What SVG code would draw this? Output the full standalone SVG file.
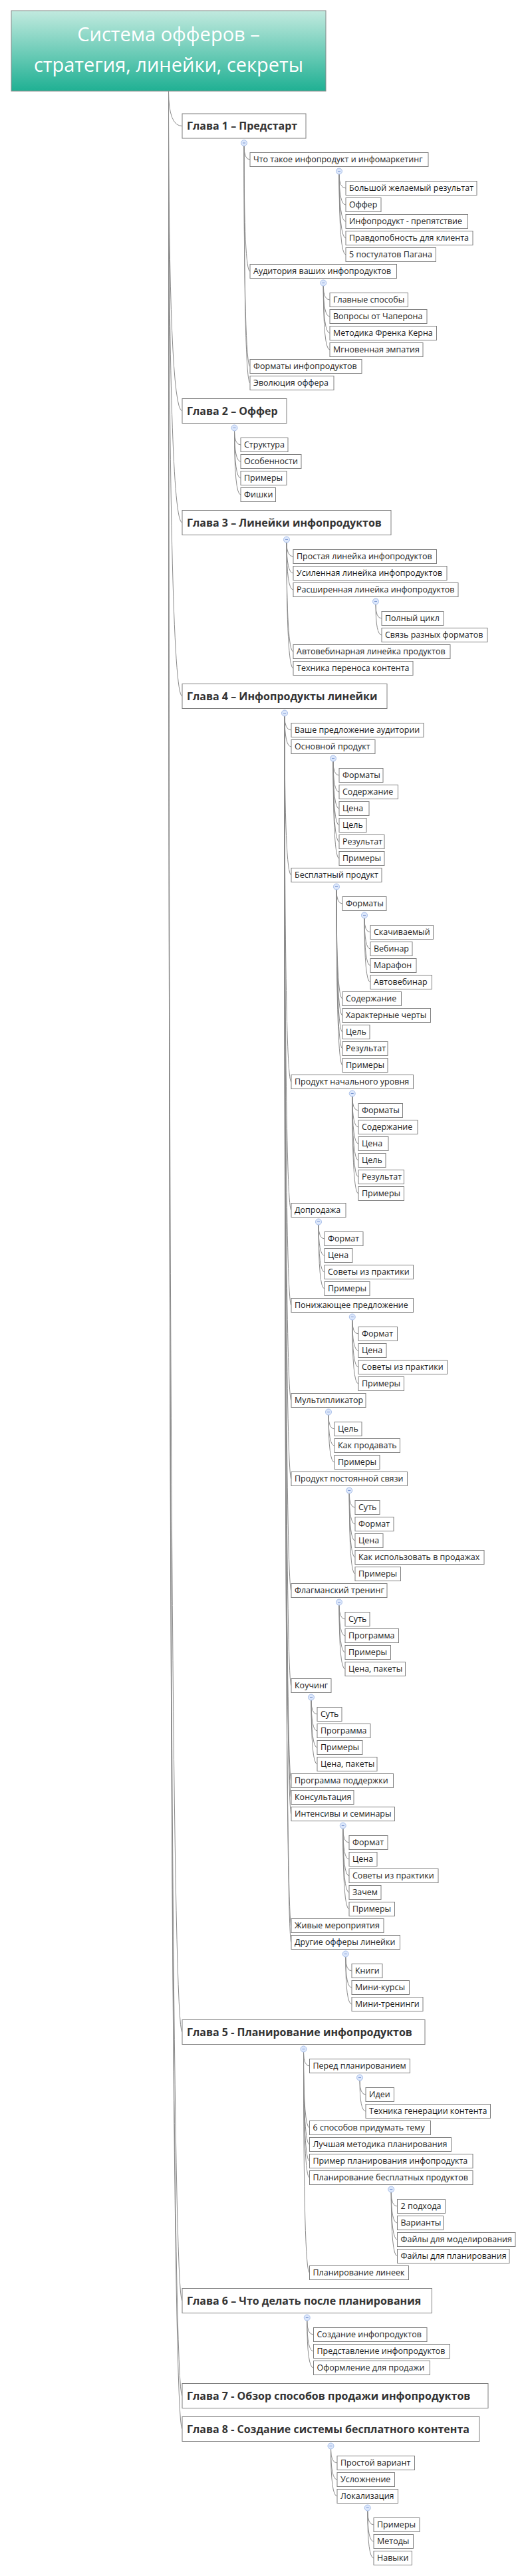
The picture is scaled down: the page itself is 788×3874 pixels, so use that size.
<svg xmlns="http://www.w3.org/2000/svg" width="788" height="3874" viewBox="0 0 788 3874">
<defs>
<linearGradient id="rootGrad" x1="0" y1="0" x2="0" y2="1">
<stop offset="0" stop-color="#c2eadf"/>
<stop offset="1" stop-color="#1fb093"/>
</linearGradient>
</defs>
<style>
.b{fill:#fff;stroke:#7f7f7f;stroke-width:1}
.t{font-family:"Open Sans","Noto Sans","DejaVu Sans",sans-serif;font-size:12.5px;fill:#1c1c1c}
.c{font-family:"Open Sans","Noto Sans","DejaVu Sans",sans-serif;font-size:16px;font-weight:700;fill:#333}
.r{font-family:"Open Sans","Noto Sans","DejaVu Sans",sans-serif;font-size:29px;fill:#fff;text-anchor:middle}
#conn path{fill:none;stroke:#8a8a8a;stroke-width:1}
.k circle{fill:#dce7fb;stroke:#a7bee9;stroke-width:1}
.k line{stroke:#7b97d1;stroke-width:1}
</style>
<rect width="788" height="3874" fill="#fff"/>
<g id="conn">
<path d="M253.5 137Q253.5 189.5 274 189.5"/>
<path d="M253.5 137Q253.5 618 274 618"/>
<path d="M253.5 137Q253.5 786 274 786"/>
<path d="M253.5 137Q253.5 1047 274 1047"/>
<path d="M253.5 137Q253.5 3056 274 3056"/>
<path d="M253.5 137Q253.5 3460 274 3460"/>
<path d="M253.5 137Q253.5 3603 274 3603"/>
<path d="M253.5 137Q253.5 3653 274 3653"/>
<path d="M367 219.5Q367 240 376 240"/>
<path d="M367 219.5Q367 408 376 408"/>
<path d="M367 219.5Q367 551 376 551"/>
<path d="M367 219.5Q367 576 376 576"/>
<path d="M510 262Q510 283 520 283"/>
<path d="M510 262Q510 308 520 308"/>
<path d="M510 262Q510 333 520 333"/>
<path d="M510 262Q510 358 520 358"/>
<path d="M510 262Q510 383 520 383"/>
<path d="M486.25 430Q486.25 451 496 451"/>
<path d="M486.25 430Q486.25 476 496 476"/>
<path d="M486.25 430Q486.25 501 496 501"/>
<path d="M486.25 430Q486.25 526 496 526"/>
<path d="M352.5 648Q352.5 669 362 669"/>
<path d="M352.5 648Q352.5 694 362 694"/>
<path d="M352.5 648Q352.5 719 362 719"/>
<path d="M352.5 648Q352.5 744 362 744"/>
<path d="M431 816Q431 837 441 837"/>
<path d="M431 816Q431 862 441 862"/>
<path d="M431 816Q431 887 441 887"/>
<path d="M431 816Q431 980 441 980"/>
<path d="M431 816Q431 1005 441 1005"/>
<path d="M565 909Q565 930 574 930"/>
<path d="M565 909Q565 955 574 955"/>
<path d="M428 1077Q428 1098 438 1098"/>
<path d="M428 1077Q428 1123 438 1123"/>
<path d="M428 1077Q428 1316 438 1316"/>
<path d="M428 1077Q428 1627 438 1627"/>
<path d="M428 1077Q428 1820 438 1820"/>
<path d="M428 1077Q428 1963 438 1963"/>
<path d="M428 1077Q428 2106 438 2106"/>
<path d="M428 1077Q428 2224 438 2224"/>
<path d="M428 1077Q428 2392 438 2392"/>
<path d="M428 1077Q428 2535 438 2535"/>
<path d="M428 1077Q428 2678 438 2678"/>
<path d="M428 1077Q428 2703 438 2703"/>
<path d="M428 1077Q428 2728 438 2728"/>
<path d="M428 1077Q428 2896 438 2896"/>
<path d="M428 1077Q428 2921 438 2921"/>
<path d="M501 1145Q501 1166 510 1166"/>
<path d="M501 1145Q501 1191 510 1191"/>
<path d="M501 1145Q501 1216 510 1216"/>
<path d="M501 1145Q501 1241 510 1241"/>
<path d="M501 1145Q501 1266 510 1266"/>
<path d="M501 1145Q501 1291 510 1291"/>
<path d="M506 1338Q506 1359 515 1359"/>
<path d="M506 1338Q506 1502 515 1502"/>
<path d="M506 1338Q506 1527 515 1527"/>
<path d="M506 1338Q506 1552 515 1552"/>
<path d="M506 1338Q506 1577 515 1577"/>
<path d="M506 1338Q506 1602 515 1602"/>
<path d="M548 1381Q548 1402 557 1402"/>
<path d="M548 1381Q548 1427 557 1427"/>
<path d="M548 1381Q548 1452 557 1452"/>
<path d="M548 1381Q548 1477 557 1477"/>
<path d="M529.75 1649Q529.75 1670 539 1670"/>
<path d="M529.75 1649Q529.75 1695 539 1695"/>
<path d="M529.75 1649Q529.75 1720 539 1720"/>
<path d="M529.75 1649Q529.75 1745 539 1745"/>
<path d="M529.75 1649Q529.75 1770 539 1770"/>
<path d="M529.75 1649Q529.75 1795 539 1795"/>
<path d="M479 1842Q479 1863 488 1863"/>
<path d="M479 1842Q479 1888 488 1888"/>
<path d="M479 1842Q479 1913 488 1913"/>
<path d="M479 1842Q479 1938 488 1938"/>
<path d="M529.75 1985Q529.75 2006 539 2006"/>
<path d="M529.75 1985Q529.75 2031 539 2031"/>
<path d="M529.75 1985Q529.75 2056 539 2056"/>
<path d="M529.75 1985Q529.75 2081 539 2081"/>
<path d="M494 2128Q494 2149 503 2149"/>
<path d="M494 2128Q494 2174 503 2174"/>
<path d="M494 2128Q494 2199 503 2199"/>
<path d="M525.25 2246Q525.25 2267 534 2267"/>
<path d="M525.25 2246Q525.25 2292 534 2292"/>
<path d="M525.25 2246Q525.25 2317 534 2317"/>
<path d="M525.25 2246Q525.25 2342 534 2342"/>
<path d="M525.25 2246Q525.25 2367 534 2367"/>
<path d="M510 2414Q510 2435 519 2435"/>
<path d="M510 2414Q510 2460 519 2460"/>
<path d="M510 2414Q510 2485 519 2485"/>
<path d="M510 2414Q510 2510 519 2510"/>
<path d="M468 2557Q468 2578 477 2578"/>
<path d="M468 2557Q468 2603 477 2603"/>
<path d="M468 2557Q468 2628 477 2628"/>
<path d="M468 2557Q468 2653 477 2653"/>
<path d="M515.75 2750Q515.75 2771 525 2771"/>
<path d="M515.75 2750Q515.75 2796 525 2796"/>
<path d="M515.75 2750Q515.75 2821 525 2821"/>
<path d="M515.75 2750Q515.75 2846 525 2846"/>
<path d="M515.75 2750Q515.75 2871 525 2871"/>
<path d="M519.75 2943Q519.75 2964 529 2964"/>
<path d="M519.75 2943Q519.75 2989 529 2989"/>
<path d="M519.75 2943Q519.75 3014 529 3014"/>
<path d="M456.5 3086Q456.5 3107 465.5 3107"/>
<path d="M456.5 3086Q456.5 3200 465.5 3200"/>
<path d="M456.5 3086Q456.5 3225 465.5 3225"/>
<path d="M456.5 3086Q456.5 3250 465.5 3250"/>
<path d="M456.5 3086Q456.5 3275 465.5 3275"/>
<path d="M456.5 3086Q456.5 3418 465.5 3418"/>
<path d="M541 3129Q541 3150 550 3150"/>
<path d="M541 3129Q541 3175 550 3175"/>
<path d="M588.25 3297Q588.25 3318 597.5 3318"/>
<path d="M588.25 3297Q588.25 3343 597.5 3343"/>
<path d="M588.25 3297Q588.25 3368 597.5 3368"/>
<path d="M588.25 3297Q588.25 3393 597.5 3393"/>
<path d="M461.75 3490Q461.75 3511 471.5 3511"/>
<path d="M461.75 3490Q461.75 3536 471.5 3536"/>
<path d="M461.75 3490Q461.75 3561 471.5 3561"/>
<path d="M497.5 3683Q497.5 3704 507 3704"/>
<path d="M497.5 3683Q497.5 3729 507 3729"/>
<path d="M497.5 3683Q497.5 3754 507 3754"/>
<path d="M552.75 3776Q552.75 3797 562 3797"/>
<path d="M552.75 3776Q552.75 3822 562 3822"/>
<path d="M552.75 3776Q552.75 3847 562 3847"/>
</g>

<g id="root"><rect x="17" y="16" width="473" height="121" fill="url(#rootGrad)" stroke="#8a8a8a" stroke-width="1"/><text class="r" x="253.5" y="62">Система офферов –</text><text class="r" x="253.5" y="108">стратегия, линейки, секреты</text></g>

<g id="ch1"><rect class="b" x="274" y="171" width="186" height="37"/><text class="c" x="281" y="195">Глава 1 – Предстарт</text><g class="k"><circle cx="367" cy="215" r="4.5"/><line x1="365" y1="215" x2="369" y2="215"/></g></g>
<g id="n1-1"><rect class="b" x="376" y="229.5" width="268" height="21"/><text class="t" x="381" y="244">Что такое инфопродукт и инфомаркетинг</text><g class="k"><circle cx="510" cy="257.5" r="4.5"/><line x1="508" y1="257.5" x2="512" y2="257.5"/></g></g>
<g id="n1-1-1"><rect class="b" x="520" y="272.5" width="197" height="21"/><text class="t" x="525" y="287">Большой желаемый результат</text></g>
<g id="n1-1-2"><rect class="b" x="520" y="297.5" width="53" height="21"/><text class="t" x="525" y="312">Оффер</text></g>
<g id="n1-1-3"><rect class="b" x="520" y="322.5" width="183.5" height="21"/><text class="t" x="525" y="337">Инфопродукт - препятствие</text></g>
<g id="n1-1-4"><rect class="b" x="520" y="347.5" width="191" height="21"/><text class="t" x="525" y="362">Правдопобность для клиента</text></g>
<g id="n1-1-5"><rect class="b" x="520" y="372.5" width="135.5" height="21"/><text class="t" x="525" y="387">5 постулатов Пагана</text></g>
<g id="n1-2"><rect class="b" x="376" y="397.5" width="220.5" height="21"/><text class="t" x="381" y="412">Аудитория ваших инфопродуктов</text><g class="k"><circle cx="486.25" cy="425.5" r="4.5"/><line x1="484.25" y1="425.5" x2="488.25" y2="425.5"/></g></g>
<g id="n1-2-1"><rect class="b" x="496" y="440.5" width="117.5" height="21"/><text class="t" x="501" y="455">Главные способы</text></g>
<g id="n1-2-2"><rect class="b" x="496" y="465.5" width="146" height="21"/><text class="t" x="501" y="480">Вопросы от Чаперона</text></g>
<g id="n1-2-3"><rect class="b" x="496" y="490.5" width="160.5" height="21"/><text class="t" x="501" y="505">Методика Френка Керна</text></g>
<g id="n1-2-4"><rect class="b" x="496" y="515.5" width="140" height="21"/><text class="t" x="501" y="530">Мгновенная эмпатия</text></g>
<g id="n1-3"><rect class="b" x="376" y="540.5" width="168" height="21"/><text class="t" x="381" y="555">Форматы инфопродуктов</text></g>
<g id="n1-4"><rect class="b" x="376" y="565.5" width="126" height="21"/><text class="t" x="381" y="580">Эволюция оффера</text></g>

<g id="ch2"><rect class="b" x="274" y="599.5" width="157" height="37"/><text class="c" x="281" y="623.5">Глава 2 – Оффер</text><g class="k"><circle cx="352.5" cy="643.5" r="4.5"/><line x1="350.5" y1="643.5" x2="354.5" y2="643.5"/></g></g>
<g id="n2-1"><rect class="b" x="362" y="658.5" width="71" height="21"/><text class="t" x="367" y="673">Структура</text></g>
<g id="n2-2"><rect class="b" x="362" y="683.5" width="91" height="21"/><text class="t" x="367" y="698">Особенности</text></g>
<g id="n2-3"><rect class="b" x="362" y="708.5" width="69" height="21"/><text class="t" x="367" y="723">Примеры</text></g>
<g id="n2-4"><rect class="b" x="362" y="733.5" width="52.5" height="21"/><text class="t" x="367" y="748">Фишки</text></g>

<g id="ch3"><rect class="b" x="274" y="767.5" width="314" height="37"/><text class="c" x="281" y="791.5">Глава 3 – Линейки инфопродуктов</text><g class="k"><circle cx="431" cy="811.5" r="4.5"/><line x1="429" y1="811.5" x2="433" y2="811.5"/></g></g>
<g id="n3-1"><rect class="b" x="441" y="826.5" width="215.5" height="21"/><text class="t" x="446" y="841">Простая линейка инфопродуктов</text></g>
<g id="n3-2"><rect class="b" x="441" y="851.5" width="231" height="21"/><text class="t" x="446" y="866">Усиленная линейка инфопродуктов</text></g>
<g id="n3-3"><rect class="b" x="441" y="876.5" width="248" height="21"/><text class="t" x="446" y="891">Расширенная линейка инфопродуктов</text><g class="k"><circle cx="565" cy="904.5" r="4.5"/><line x1="563" y1="904.5" x2="567" y2="904.5"/></g></g>
<g id="n3-3-1"><rect class="b" x="574" y="919.5" width="93" height="21"/><text class="t" x="579" y="934">Полный цикл</text></g>
<g id="n3-3-2"><rect class="b" x="574" y="944.5" width="159" height="21"/><text class="t" x="579" y="959">Связь разных форматов</text></g>
<g id="n3-4"><rect class="b" x="441" y="969.5" width="236" height="21"/><text class="t" x="446" y="984">Автовебинарная линейка продуктов</text></g>
<g id="n3-5"><rect class="b" x="441" y="994.5" width="180" height="21"/><text class="t" x="446" y="1009">Техника переноса контента</text></g>

<g id="ch4"><rect class="b" x="274" y="1028.5" width="308" height="37"/><text class="c" x="281" y="1052.5">Глава 4 – Инфопродукты линейки</text><g class="k"><circle cx="428" cy="1072.5" r="4.5"/><line x1="426" y1="1072.5" x2="430" y2="1072.5"/></g></g>
<g id="n4-1"><rect class="b" x="438" y="1087.5" width="199" height="21"/><text class="t" x="443" y="1102">Ваше предложение аудитории</text></g>
<g id="n4-2"><rect class="b" x="438" y="1112.5" width="126" height="21"/><text class="t" x="443" y="1127">Основной продукт</text><g class="k"><circle cx="501" cy="1140.5" r="4.5"/><line x1="499" y1="1140.5" x2="503" y2="1140.5"/></g></g>
<g id="n4-2-1"><rect class="b" x="510" y="1155.5" width="66" height="21"/><text class="t" x="515" y="1170">Форматы</text></g>
<g id="n4-2-2"><rect class="b" x="510" y="1180.5" width="88.5" height="21"/><text class="t" x="515" y="1195">Содержание</text></g>
<g id="n4-2-3"><rect class="b" x="510" y="1205.5" width="45" height="21"/><text class="t" x="515" y="1220">Цена</text></g>
<g id="n4-2-4"><rect class="b" x="510" y="1230.5" width="41" height="21"/><text class="t" x="515" y="1245">Цель</text></g>
<g id="n4-2-5"><rect class="b" x="510" y="1255.5" width="68" height="21"/><text class="t" x="515" y="1270">Результат</text></g>
<g id="n4-2-6"><rect class="b" x="510" y="1280.5" width="68" height="21"/><text class="t" x="515" y="1295">Примеры</text></g>
<g id="n4-3"><rect class="b" x="438" y="1305.5" width="136" height="21"/><text class="t" x="443" y="1320">Бесплатный продукт</text><g class="k"><circle cx="506" cy="1333.5" r="4.5"/><line x1="504" y1="1333.5" x2="508" y2="1333.5"/></g></g>
<g id="n4-3-1"><rect class="b" x="515" y="1348.5" width="66" height="21"/><text class="t" x="520" y="1363">Форматы</text><g class="k"><circle cx="548" cy="1376.5" r="4.5"/><line x1="546" y1="1376.5" x2="550" y2="1376.5"/></g></g>
<g id="n4-3-1-1"><rect class="b" x="557" y="1391.5" width="94.5" height="21"/><text class="t" x="562" y="1406">Скачиваемый</text></g>
<g id="n4-3-1-2"><rect class="b" x="557" y="1416.5" width="63" height="21"/><text class="t" x="562" y="1431">Вебинар</text></g>
<g id="n4-3-1-3"><rect class="b" x="557" y="1441.5" width="69" height="21"/><text class="t" x="562" y="1456">Марафон</text></g>
<g id="n4-3-1-4"><rect class="b" x="557" y="1466.5" width="92.5" height="21"/><text class="t" x="562" y="1481">Автовебинар</text></g>
<g id="n4-3-2"><rect class="b" x="515" y="1491.5" width="88.5" height="21"/><text class="t" x="520" y="1506">Содержание</text></g>
<g id="n4-3-3"><rect class="b" x="515" y="1516.5" width="132.5" height="21"/><text class="t" x="520" y="1531">Характерные черты</text></g>
<g id="n4-3-4"><rect class="b" x="515" y="1541.5" width="41" height="21"/><text class="t" x="520" y="1556">Цель</text></g>
<g id="n4-3-5"><rect class="b" x="515" y="1566.5" width="68" height="21"/><text class="t" x="520" y="1581">Результат</text></g>
<g id="n4-3-6"><rect class="b" x="515" y="1591.5" width="68" height="21"/><text class="t" x="520" y="1606">Примеры</text></g>
<g id="n4-4"><rect class="b" x="438" y="1616.5" width="183.5" height="21"/><text class="t" x="443" y="1631">Продукт начального уровня</text><g class="k"><circle cx="529.75" cy="1644.5" r="4.5"/><line x1="527.75" y1="1644.5" x2="531.75" y2="1644.5"/></g></g>
<g id="n4-4-1"><rect class="b" x="539" y="1659.5" width="66.5" height="21"/><text class="t" x="544" y="1674">Форматы</text></g>
<g id="n4-4-2"><rect class="b" x="539" y="1684.5" width="89" height="21"/><text class="t" x="544" y="1699">Содержание</text></g>
<g id="n4-4-3"><rect class="b" x="539" y="1709.5" width="45" height="21"/><text class="t" x="544" y="1724">Цена</text></g>
<g id="n4-4-4"><rect class="b" x="539" y="1734.5" width="41" height="21"/><text class="t" x="544" y="1749">Цель</text></g>
<g id="n4-4-5"><rect class="b" x="539" y="1759.5" width="68.5" height="21"/><text class="t" x="544" y="1774">Результат</text></g>
<g id="n4-4-6"><rect class="b" x="539" y="1784.5" width="68.5" height="21"/><text class="t" x="544" y="1799">Примеры</text></g>
<g id="n4-5"><rect class="b" x="438" y="1809.5" width="82" height="21"/><text class="t" x="443" y="1824">Допродажа</text><g class="k"><circle cx="479" cy="1837.5" r="4.5"/><line x1="477" y1="1837.5" x2="481" y2="1837.5"/></g></g>
<g id="n4-5-1"><rect class="b" x="488" y="1852.5" width="58" height="21"/><text class="t" x="493" y="1867">Формат</text></g>
<g id="n4-5-2"><rect class="b" x="488" y="1877.5" width="42" height="21"/><text class="t" x="493" y="1892">Цена</text></g>
<g id="n4-5-3"><rect class="b" x="488" y="1902.5" width="133.5" height="21"/><text class="t" x="493" y="1917">Советы из практики</text></g>
<g id="n4-5-4"><rect class="b" x="488" y="1927.5" width="68" height="21"/><text class="t" x="493" y="1942">Примеры</text></g>
<g id="n4-6"><rect class="b" x="438" y="1952.5" width="183.5" height="21"/><text class="t" x="443" y="1967">Понижающее предложение</text><g class="k"><circle cx="529.75" cy="1980.5" r="4.5"/><line x1="527.75" y1="1980.5" x2="531.75" y2="1980.5"/></g></g>
<g id="n4-6-1"><rect class="b" x="539" y="1995.5" width="58.5" height="21"/><text class="t" x="544" y="2010">Формат</text></g>
<g id="n4-6-2"><rect class="b" x="539" y="2020.5" width="42" height="21"/><text class="t" x="544" y="2035">Цена</text></g>
<g id="n4-6-3"><rect class="b" x="539" y="2045.5" width="133.5" height="21"/><text class="t" x="544" y="2060">Советы из практики</text></g>
<g id="n4-6-4"><rect class="b" x="539" y="2070.5" width="68.5" height="21"/><text class="t" x="544" y="2085">Примеры</text></g>
<g id="n4-7"><rect class="b" x="438" y="2095.5" width="112" height="21"/><text class="t" x="443" y="2110">Мультипликатор</text><g class="k"><circle cx="494" cy="2123.5" r="4.5"/><line x1="492" y1="2123.5" x2="496" y2="2123.5"/></g></g>
<g id="n4-7-1"><rect class="b" x="503" y="2138.5" width="41" height="21"/><text class="t" x="508" y="2153">Цель</text></g>
<g id="n4-7-2"><rect class="b" x="503" y="2163.5" width="98.5" height="21"/><text class="t" x="508" y="2178">Как продавать</text></g>
<g id="n4-7-3"><rect class="b" x="503" y="2188.5" width="68" height="21"/><text class="t" x="508" y="2203">Примеры</text></g>
<g id="n4-8"><rect class="b" x="438" y="2213.5" width="174.5" height="21"/><text class="t" x="443" y="2228">Продукт постоянной связи</text><g class="k"><circle cx="525.25" cy="2241.5" r="4.5"/><line x1="523.25" y1="2241.5" x2="527.25" y2="2241.5"/></g></g>
<g id="n4-8-1"><rect class="b" x="534" y="2256.5" width="37" height="21"/><text class="t" x="539" y="2271">Суть</text></g>
<g id="n4-8-2"><rect class="b" x="534" y="2281.5" width="58" height="21"/><text class="t" x="539" y="2296">Формат</text></g>
<g id="n4-8-3"><rect class="b" x="534" y="2306.5" width="42" height="21"/><text class="t" x="539" y="2321">Цена</text></g>
<g id="n4-8-4"><rect class="b" x="534" y="2331.5" width="194" height="21"/><text class="t" x="539" y="2346">Как использовать в продажах</text></g>
<g id="n4-8-5"><rect class="b" x="534" y="2356.5" width="68.5" height="21"/><text class="t" x="539" y="2371">Примеры</text></g>
<g id="n4-9"><rect class="b" x="438" y="2381.5" width="144" height="21"/><text class="t" x="443" y="2396">Флагманский тренинг</text><g class="k"><circle cx="510" cy="2409.5" r="4.5"/><line x1="508" y1="2409.5" x2="512" y2="2409.5"/></g></g>
<g id="n4-9-1"><rect class="b" x="519" y="2424.5" width="37" height="21"/><text class="t" x="524" y="2439">Суть</text></g>
<g id="n4-9-2"><rect class="b" x="519" y="2449.5" width="80.5" height="21"/><text class="t" x="524" y="2464">Программа</text></g>
<g id="n4-9-3"><rect class="b" x="519" y="2474.5" width="68.5" height="21"/><text class="t" x="524" y="2489">Примеры</text></g>
<g id="n4-9-4"><rect class="b" x="519" y="2499.5" width="90.5" height="21"/><text class="t" x="524" y="2514">Цена, пакеты</text></g>
<g id="n4-10"><rect class="b" x="438" y="2524.5" width="60" height="21"/><text class="t" x="443" y="2539">Коучинг</text><g class="k"><circle cx="468" cy="2552.5" r="4.5"/><line x1="466" y1="2552.5" x2="470" y2="2552.5"/></g></g>
<g id="n4-10-1"><rect class="b" x="477" y="2567.5" width="37" height="21"/><text class="t" x="482" y="2582">Суть</text></g>
<g id="n4-10-2"><rect class="b" x="477" y="2592.5" width="80" height="21"/><text class="t" x="482" y="2607">Программа</text></g>
<g id="n4-10-3"><rect class="b" x="477" y="2617.5" width="68" height="21"/><text class="t" x="482" y="2632">Примеры</text></g>
<g id="n4-10-4"><rect class="b" x="477" y="2642.5" width="90" height="21"/><text class="t" x="482" y="2657">Цена, пакеты</text></g>
<g id="n4-11"><rect class="b" x="438" y="2667.5" width="153.5" height="21"/><text class="t" x="443" y="2682">Программа поддержки</text></g>
<g id="n4-12"><rect class="b" x="438" y="2692.5" width="94" height="21"/><text class="t" x="443" y="2707">Консультация</text></g>
<g id="n4-13"><rect class="b" x="438" y="2717.5" width="155.5" height="21"/><text class="t" x="443" y="2732">Интенсивы и семинары</text><g class="k"><circle cx="515.75" cy="2745.5" r="4.5"/><line x1="513.75" y1="2745.5" x2="517.75" y2="2745.5"/></g></g>
<g id="n4-13-1"><rect class="b" x="525" y="2760.5" width="58" height="21"/><text class="t" x="530" y="2775">Формат</text></g>
<g id="n4-13-2"><rect class="b" x="525" y="2785.5" width="42" height="21"/><text class="t" x="530" y="2800">Цена</text></g>
<g id="n4-13-3"><rect class="b" x="525" y="2810.5" width="134" height="21"/><text class="t" x="530" y="2825">Советы из практики</text></g>
<g id="n4-13-4"><rect class="b" x="525" y="2835.5" width="48" height="21"/><text class="t" x="530" y="2850">Зачем</text></g>
<g id="n4-13-5"><rect class="b" x="525" y="2860.5" width="68.5" height="21"/><text class="t" x="530" y="2875">Примеры</text></g>
<g id="n4-14"><rect class="b" x="438" y="2885.5" width="139" height="21"/><text class="t" x="443" y="2900">Живые мероприятия</text></g>
<g id="n4-15"><rect class="b" x="438" y="2910.5" width="163.5" height="21"/><text class="t" x="443" y="2925">Другие офферы линейки</text><g class="k"><circle cx="519.75" cy="2938.5" r="4.5"/><line x1="517.75" y1="2938.5" x2="521.75" y2="2938.5"/></g></g>
<g id="n4-15-1"><rect class="b" x="529" y="2953.5" width="46" height="21"/><text class="t" x="534" y="2968">Книги</text></g>
<g id="n4-15-2"><rect class="b" x="529" y="2978.5" width="86.5" height="21"/><text class="t" x="534" y="2993">Мини-курсы</text></g>
<g id="n4-15-3"><rect class="b" x="529" y="3003.5" width="107" height="21"/><text class="t" x="534" y="3018">Мини-тренинги</text></g>

<g id="ch5"><rect class="b" x="274" y="3037.5" width="365" height="37"/><text class="c" x="281" y="3061.5">Глава 5 - Планирование инфопродуктов</text><g class="k"><circle cx="456.5" cy="3081.5" r="4.5"/><line x1="454.5" y1="3081.5" x2="458.5" y2="3081.5"/></g></g>
<g id="n5-1"><rect class="b" x="465.5" y="3096.5" width="151" height="21"/><text class="t" x="470.5" y="3111">Перед планированием</text><g class="k"><circle cx="541" cy="3124.5" r="4.5"/><line x1="539" y1="3124.5" x2="543" y2="3124.5"/></g></g>
<g id="n5-1-1"><rect class="b" x="550" y="3139.5" width="42.5" height="21"/><text class="t" x="555" y="3154">Идеи</text></g>
<g id="n5-1-2"><rect class="b" x="550" y="3164.5" width="187.5" height="21"/><text class="t" x="555" y="3179">Техника генерации контента</text></g>
<g id="n5-2"><rect class="b" x="465.5" y="3189.5" width="182" height="21"/><text class="t" x="470.5" y="3204">6 способов придумать тему</text></g>
<g id="n5-3"><rect class="b" x="465.5" y="3214.5" width="213" height="21"/><text class="t" x="470.5" y="3229">Лучшая методика планирования</text></g>
<g id="n5-4"><rect class="b" x="465.5" y="3239.5" width="245.5" height="21"/><text class="t" x="470.5" y="3254">Пример планирования инфопродукта</text></g>
<g id="n5-5"><rect class="b" x="465.5" y="3264.5" width="245.5" height="21"/><text class="t" x="470.5" y="3279">Планирование бесплатных продуктов</text><g class="k"><circle cx="588.25" cy="3292.5" r="4.5"/><line x1="586.25" y1="3292.5" x2="590.25" y2="3292.5"/></g></g>
<g id="n5-5-1"><rect class="b" x="597.5" y="3307.5" width="72" height="21"/><text class="t" x="602.5" y="3322">2 подхода</text></g>
<g id="n5-5-2"><rect class="b" x="597.5" y="3332.5" width="69" height="21"/><text class="t" x="602.5" y="3347">Варианты</text></g>
<g id="n5-5-3"><rect class="b" x="597.5" y="3357.5" width="177.5" height="21"/><text class="t" x="602.5" y="3372">Файлы для моделирования</text></g>
<g id="n5-5-4"><rect class="b" x="597.5" y="3382.5" width="168.5" height="21"/><text class="t" x="602.5" y="3397">Файлы для планирования</text></g>
<g id="n5-6"><rect class="b" x="465.5" y="3407.5" width="149" height="21"/><text class="t" x="470.5" y="3422">Планирование линеек</text></g>

<g id="ch6"><rect class="b" x="274" y="3441.5" width="375.5" height="37"/><text class="c" x="281" y="3465.5">Глава 6 – Что делать после планирования</text><g class="k"><circle cx="461.75" cy="3485.5" r="4.5"/><line x1="459.75" y1="3485.5" x2="463.75" y2="3485.5"/></g></g>
<g id="n6-1"><rect class="b" x="471.5" y="3500.5" width="170.5" height="21"/><text class="t" x="476.5" y="3515">Создание инфопродуктов</text></g>
<g id="n6-2"><rect class="b" x="471.5" y="3525.5" width="205" height="21"/><text class="t" x="476.5" y="3540">Представление инфопродуктов</text></g>
<g id="n6-3"><rect class="b" x="471.5" y="3550.5" width="175" height="21"/><text class="t" x="476.5" y="3565">Оформление для продажи</text></g>

<g id="ch7"><rect class="b" x="274" y="3584.5" width="460" height="37"/><text class="c" x="281" y="3608.5">Глава 7 - Обзор способов продажи инфопродуктов</text></g>

<g id="ch8"><rect class="b" x="274" y="3634.5" width="447" height="37"/><text class="c" x="281" y="3658.5">Глава 8 - Создание системы бесплатного контента</text><g class="k"><circle cx="497.5" cy="3678.5" r="4.5"/><line x1="495.5" y1="3678.5" x2="499.5" y2="3678.5"/></g></g>
<g id="n8-1"><rect class="b" x="507" y="3693.5" width="116.5" height="21"/><text class="t" x="512" y="3708">Простой вариант</text></g>
<g id="n8-2"><rect class="b" x="507" y="3718.5" width="86.5" height="21"/><text class="t" x="512" y="3733">Усложнение</text></g>
<g id="n8-3"><rect class="b" x="507" y="3743.5" width="91.5" height="21"/><text class="t" x="512" y="3758">Локализация</text><g class="k"><circle cx="552.75" cy="3771.5" r="4.5"/><line x1="550.75" y1="3771.5" x2="554.75" y2="3771.5"/></g></g>
<g id="n8-3-1"><rect class="b" x="562" y="3786.5" width="69" height="21"/><text class="t" x="567" y="3801">Примеры</text></g>
<g id="n8-3-2"><rect class="b" x="562" y="3811.5" width="59.5" height="21"/><text class="t" x="567" y="3826">Методы</text></g>
<g id="n8-3-3"><rect class="b" x="562" y="3836.5" width="57.5" height="21"/><text class="t" x="567" y="3851">Навыки</text></g>
</svg>
